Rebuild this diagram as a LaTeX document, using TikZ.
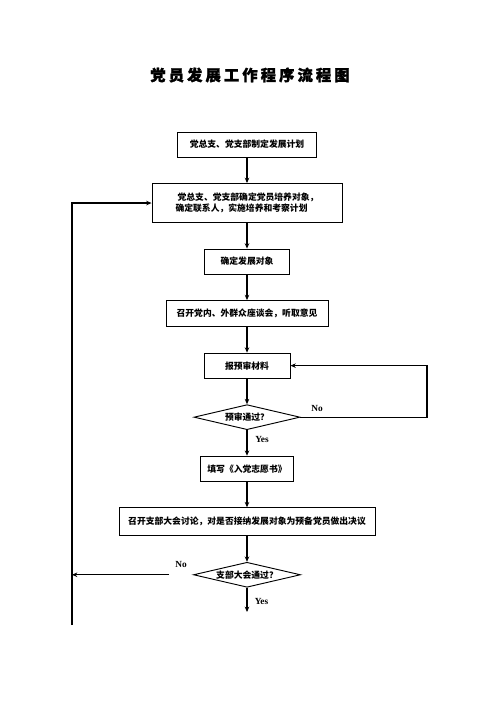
\documentclass[tikz,border=0pt]{standalone}
\usepackage{fontspec}
\setmainfont{Liberation Serif}
\newfontfamily\cjk{Noto Sans CJK SC}
\newfontfamily\cjktitle[LetterSpace=20, BoldFeatures={FakeBold=1.5}]{Noto Sans CJK SC}
\usetikzlibrary{shapes.geometric, arrows.meta, positioning}

\begin{document}
\begin{tikzpicture}[
      x=0.75pt, y=-0.75pt,
      node distance=19.2pt,
      stepbox/.style={rectangle, draw, line width=0.7pt, minimum height=18.75pt, inner sep=0pt, align=center, font=\cjk\bfseries\fontsize{6.6pt}{8.25pt}\selectfont},
      check/.style={diamond, draw, line width=0.7pt, aspect=4.28, minimum width=79.5pt, minimum height=18.75pt, inner sep=0pt, font=\cjk\bfseries\fontsize{6.6pt}{8.25pt}\selectfont},
      answer/.style={inner sep=0pt, font=\bfseries\fontsize{7pt}{8pt}\selectfont},
      arrow/.style={-{Stealth[length=4pt, width=3.4pt]}, line width=0.8pt}
    ]
    \useasboundingbox (0,0) rectangle (496,702);

    \node[font=\cjktitle\bfseries\fontsize{11.5pt}{14pt}\selectfont] (title) at (250,75) {党员发展工作程序流程图};

    \node[stepbox, minimum width=104.25pt] (plan) at (247,144.5) {党总支、党支部制定发展计划};
    \node[stepbox, minimum width=142.5pt, minimum height=29.25pt, align=left, below=of plan] (train) {\ 党总支、党支部确定党员培养对象，\\确定联系人，实施培养和考察计划};
    \node[stepbox, minimum width=63.75pt, below=of train] (target) {确定发展对象};
    \node[stepbox, minimum width=121.5pt, minimum height=19.5pt, below=of target] (forum) {召开党内、外群众座谈会，听取意见};
    \node[stepbox, minimum width=64.5pt, below=of forum] (submit) {报预审材料};
    \node[check, below=of submit] (precheck) {预审通过？};
    \node[stepbox, minimum width=69.75pt, below=of precheck] (apply) {填写《入党志愿书》};
    \node[stepbox, minimum width=192pt, minimum height=21pt, below=of apply] (meeting) {召开支部大会讨论，对是否接纳发展对象为预备党员做出决议};
    \node[check, minimum width=80.25pt, below=of meeting] (vote) {支部大会通过？};

    \node[answer] (no1) at (317,408) {No};
    \node[answer] (yes1) at (262,439.5) {Yes};
    \node[answer] (no2) at (181,564) {No};
    \node[answer] (yes2) at (261.5,601.5) {Yes};

    \coordinate (back) at (427,365.5);
    \coordinate (nostart) at (169,574);
    \coordinate (noend) at (72,574);
    \coordinate (bottom) at (72,625);
    \coordinate (done) at (247,612);

    \draw[arrow] (plan) -- (train);
    \draw[arrow] (train) -- (target);
    \draw[arrow] (target) -- (forum);
    \draw[arrow] (forum) -- (submit);
    \draw[arrow] (submit) -- (precheck);
    \draw[arrow] (precheck) -- (apply);
    \draw[arrow] (apply) -- (meeting);
    \draw[arrow] (meeting) -- (vote);
    \draw[arrow] (vote) -- (done);
    \draw[arrow] (precheck.east) -| (back |- submit.east) -- (submit.east);
    \draw[arrow] (nostart |- vote) -- (noend |- vote);
    \draw[arrow] (bottom) |- (train.west);
  \end{tikzpicture}
\end{document}
